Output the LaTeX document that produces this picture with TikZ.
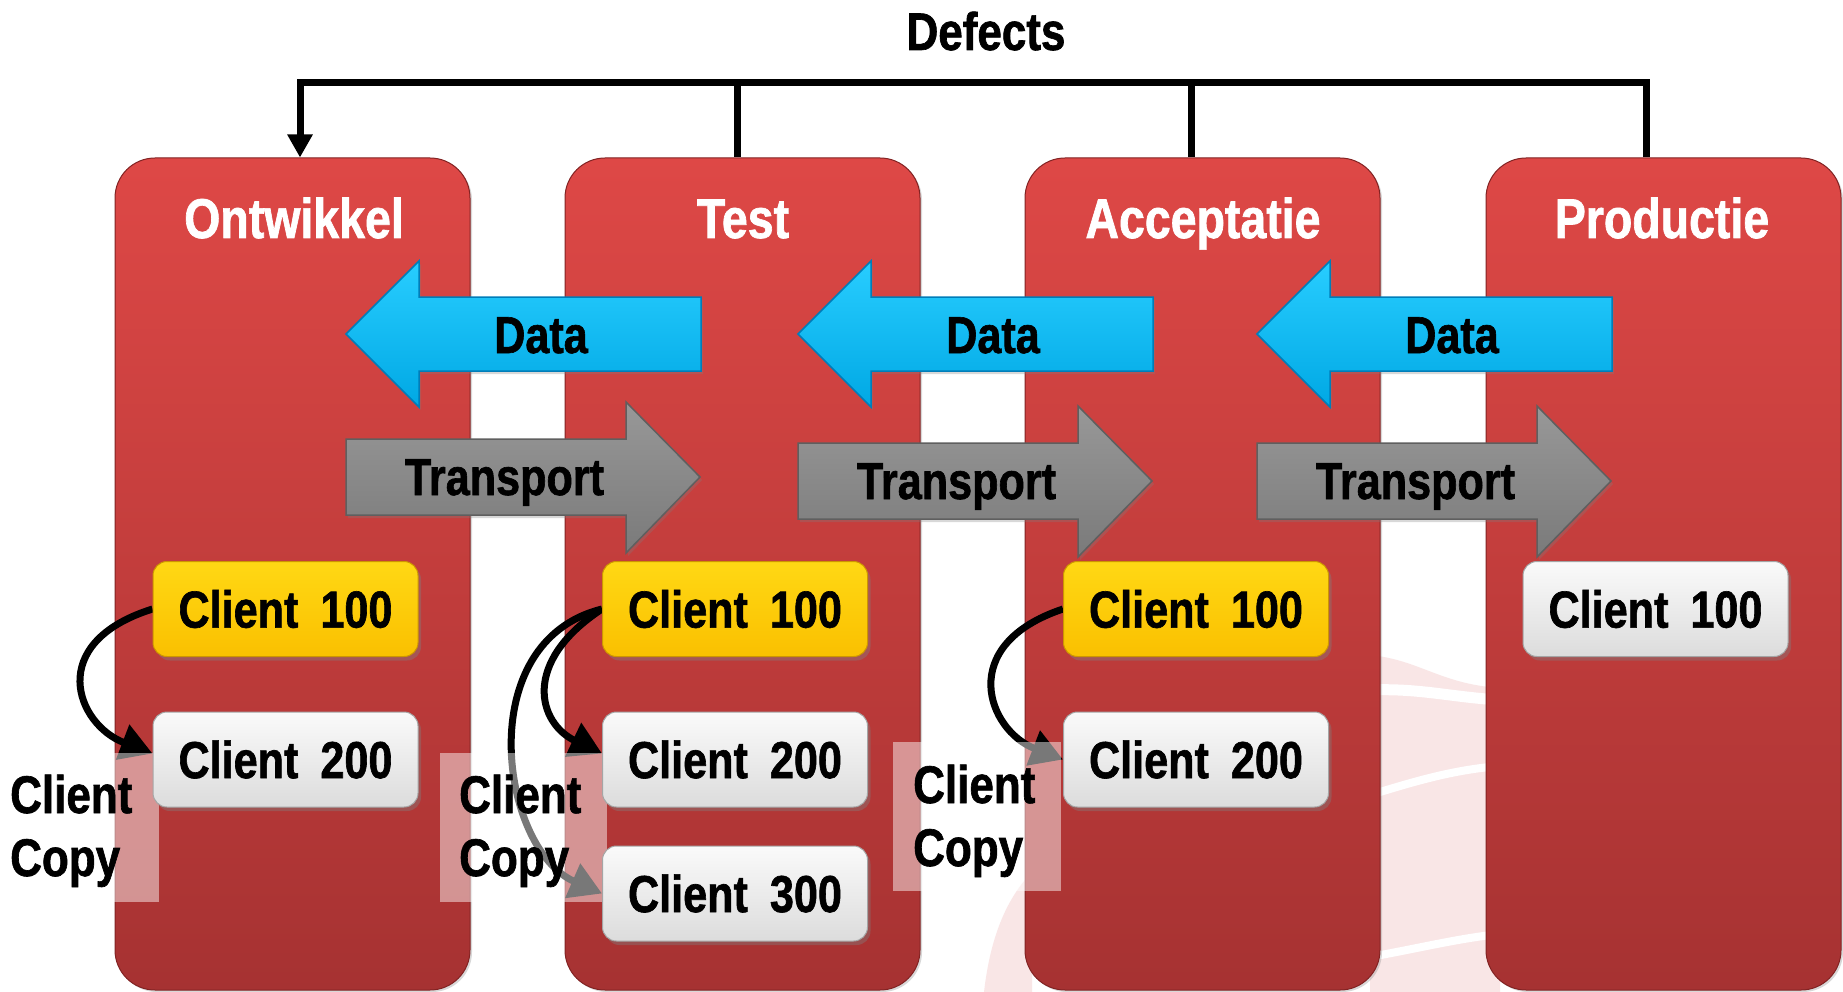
\documentclass[tikz,border=0pt]{standalone}
\usepackage{fontspec}
\setmainfont{Liberation Sans}[FakeStretch=0.83,FakeBold=1.2]
\usetikzlibrary{arrows.meta,shadows}
\definecolor{colTop}{RGB}{222,72,70}
\definecolor{colBot}{RGB}{166,50,50}
\definecolor{colEdge}{RGB}{130,35,35}
\definecolor{dataTop}{RGB}{40,205,255}
\definecolor{dataBot}{RGB}{0,168,228}
\definecolor{dataEdge}{RGB}{0,125,185}
\definecolor{trTop}{RGB}{152,152,152}
\definecolor{trBot}{RGB}{122,122,122}
\definecolor{trEdge}{RGB}{95,95,95}
\definecolor{yelTop}{RGB}{255,216,20}
\definecolor{yelBot}{RGB}{250,192,0}
\definecolor{yelEdge}{RGB}{205,150,0}
\definecolor{whTop}{RGB}{250,250,250}
\definecolor{whBot}{RGB}{220,220,220}
\definecolor{whEdge}{RGB}{165,165,165}
\definecolor{wm}{RGB}{249,230,230}
\pgfdeclarelayer{bg}
\pgfdeclarelayer{curves}
\pgfdeclarelayer{over}
\pgfsetlayers{bg,curves,over,main}
\begin{document}
\begin{tikzpicture}[x=1pt,y=-1pt,
  column/.style={rectangle, rounded corners=40pt, minimum width=355pt, minimum height=832pt, inner sep=0pt,
    top color=colTop, bottom color=colBot, draw=colEdge, line width=1pt,
    drop shadow={opacity=0.3, shadow xshift=2pt, shadow yshift=-2pt}},
  coltitle/.style={text=white, font=\bfseries\fontsize{56}{60}\selectfont, anchor=base, inner sep=0pt},
  arrtext/.style={text=black, font=\bfseries\fontsize{52}{56}\selectfont, anchor=base, inner sep=0pt},
  client/.style={rectangle, rounded corners=14pt, minimum width=265pt, minimum height=95pt, inner sep=0pt,
    font=\bfseries\fontsize{52}{56}\selectfont, text=black, line width=1pt,
    drop shadow={opacity=0.4, shadow xshift=3pt, shadow yshift=-4pt}},
  srcbox/.style={client, top color=yelTop, bottom color=yelBot, draw=yelEdge},
  dstbox/.style={client, top color=whTop, bottom color=whBot, draw=whEdge},
  copylbl/.style={anchor=base west, inner sep=0pt, font=\bfseries\fontsize{53}{63}\selectfont, text=black},
  defline/.style={draw=black, line width=7pt, line join=miter},
  copyarr/.style={draw=black, line width=7pt, -{Triangle[length=32pt,width=36pt]}},
  overlay/.style={fill=white, opacity=0.47},
  dataarrow/.style={top color=dataTop, bottom color=dataBot, draw=dataEdge, line width=1.5pt,
    drop shadow={opacity=0.3, shadow xshift=2pt, shadow yshift=-3pt}},
  trarrow/.style={top color=trTop, bottom color=trBot, draw=trEdge, line width=1.5pt,
    drop shadow={opacity=0.3, shadow xshift=2pt, shadow yshift=-3pt}}
]
\useasboundingbox (0,0) rectangle (1843,992);

% ---------- boxes and labels (main layer) ----------
\node[srcbox] (o100) at (285.5,609) {Client\hspace{22pt}100};
\node[dstbox] (o200) at (285.5,759.5) {Client\hspace{22pt}200};
\node[srcbox] (t100) at (735,609) {Client\hspace{22pt}100};
\node[dstbox] (t200) at (735,759.5) {Client\hspace{22pt}200};
\node[dstbox] (t300) at (735,893.5) {Client\hspace{22pt}300};
\node[srcbox] (a100) at (1196,609) {Client\hspace{22pt}100};
\node[dstbox] (a200) at (1196,759.5) {Client\hspace{22pt}200};
\node[dstbox] (p100) at (1655.5,609) {Client\hspace{22pt}100};

\node[copylbl] (ccO) at (10,813) {\begin{tabular}[t]{@{}l@{}}Client\\Copy\end{tabular}};
\node[copylbl] (ccT) at (459,813) {\begin{tabular}[t]{@{}l@{}}Client\\Copy\end{tabular}};
\node[copylbl] (ccA) at (913,803) {\begin{tabular}[t]{@{}l@{}}Client\\Copy\end{tabular}};

% ---------- background layer ----------
\begin{pgfonlayer}{bg}
\fill[white] (0,0) rectangle (1843,992);
% watermark
\fill[wm] (984,992) .. controls (990,940) and (1005,900) .. (1032,872) -- (1032,992) -- cycle;
\fill[wm] (1370,655) .. controls (1420,660) and (1440,684) .. (1500,688) -- (1500,992) -- (1370,992) -- cycle;
\draw[white, line width=11pt] (1370,690) .. controls (1420,688) and (1450,697) .. (1500,700);
\draw[white, line width=8pt] (1370,795) .. controls (1410,783) and (1450,770) .. (1500,766);
\draw[white, line width=8pt] (1370,957) .. controls (1420,948) and (1460,938) .. (1500,934);

% columns
\node[column] (colO) at (292.5,574) {};
\node[column] (colT) at (742.5,574) {};
\node[column] (colA) at (1202.5,574) {};
\node[column] (colP) at (1663.5,574) {};
\node[coltitle] (tO) at (294,238) {Ontwikkel};
\node[coltitle] (tT) at (743,238) {Test};
\node[coltitle] (tA) at (1203,238) {Acceptatie};
\node[coltitle] (tP) at (1662,238) {Productie};

% defects
\node[arrtext, font=\bfseries\fontsize{53}{56}\selectfont] (defects) at (986,50) {Defects};
\coordinate (barL) at (300,83);
\coordinate (barT) at (737,83);
\coordinate (barA) at (1191,83);
\coordinate (barR) at (1646,83);
\draw[defline, -{Triangle[length=23pt,width=24pt]}] (barR |- colP.north) -- (barR) -- (barL) -- (barL |- colO.north);
\draw[defline] (barT) -- (barT |- colT.north);
\draw[defline] (barA) -- (barA |- colA.north);

% data and transport arrows
\foreach \dx/\dy/\n in {0/0/1, 452/4/2, 911/4/3} {
  \path[dataarrow] (346+\dx,334) -- (419+\dx,261) -- (419+\dx,297) -- (701+\dx,297)
     -- (701+\dx,371) -- (419+\dx,371) -- (419+\dx,407) -- cycle;
  \node[arrtext] (data\n) at (541+\dx,353) {Data};
  \path[trarrow] (346+\dx,439+\dy) -- (626+\dx,439+\dy) -- (626+\dx,402+\dy) -- (700+\dx,477+\dy)
     -- (626+\dx,553+\dy) -- (626+\dx,515+\dy) -- (346+\dx,515+\dy) -- cycle;
  \node[arrtext] (trans\n) at (504.5+\dx,495+\dy) {Transport};
}
\end{pgfonlayer}

% ---------- client copy curves ----------
\begin{pgfonlayer}{curves}
\draw[copyarr] (o100.west) .. controls +(-108,34) and +(-76,-29) .. ([yshift=6pt]o200.west);
\draw[copyarr] (t100.west) .. controls +(-82,54) and +(-63,-30) .. ([yshift=6pt]t200.west);
\draw[copyarr] (t100.west) .. controls +(-132,33) and +(-101,-44) .. (t300.west);
\draw[copyarr] (a100.west) .. controls +(-108,36) and +(-75,-29) .. (a200.west);
\end{pgfonlayer}

% ---------- translucent label backgrounds ----------
\begin{pgfonlayer}{over}
\fill[overlay] (0,753) rectangle (159,902);
\fill[overlay] (440,753) rectangle (607,902);
\fill[overlay] (893,742) rectangle (1061,891);
\end{pgfonlayer}
\end{tikzpicture}
\end{document}
